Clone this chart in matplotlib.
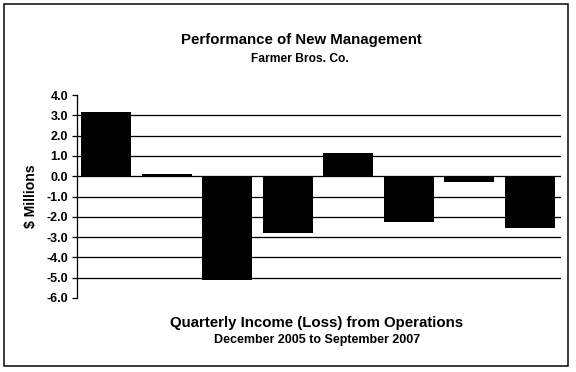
import matplotlib.pyplot as plt
from matplotlib.patches import Rectangle

quarters = ["Dec 2005", "Mar 2006", "Jun 2006", "Sep 2006",
            "Dec 2006", "Mar 2007", "Jun 2007", "Sep 2007"]
income = [3.15, 0.1, -5.1, -2.8, 1.15, -2.25, -0.28, -2.55]
yticks = [4.0, 3.0, 2.0, 1.0, 0.0, -1.0, -2.0, -3.0, -4.0, -5.0, -6.0]

plt.rcParams['font.family'] = ['Liberation Sans', 'DejaVu Sans']

fig = plt.figure(figsize=(8, 372 / 72), dpi=72)
ax = fig.add_axes([77 / 576, 1 - 298 / 372, (561 - 77) / 576, (298 - 95) / 372])

# gridlines behind bars
for v in yticks[1:-1]:
    ax.axhline(v, color="black", linewidth=1.3, zorder=1)

x = [i + 0.07 for i in range(len(income))]
ax.bar(x, income, width=0.83, align="edge", color="black", zorder=2)

ax.set_xlim(0, len(income))
ax.set_ylim(-6, 4)
ax.set_yticks(yticks)
ax.set_yticklabels([f"{v:.1f}" for v in yticks], fontsize=12.5, fontweight="bold")
ax.set_xticks([])
for s in ["top", "right", "bottom"]:
    ax.spines[s].set_visible(False)
ax.spines["left"].set_linewidth(1.3)
ax.tick_params(axis="y", length=5, width=1.3, pad=4)
ax.set_ylabel("$ Millions", fontsize=14, fontweight="bold", labelpad=8)

fig.text(301 / 576, 1 - 40 / 372, "Performance of New Management",
         ha="center", va="center", fontsize=15, fontweight="bold")
fig.text(300 / 576, 1 - 59 / 372, "Farmer Bros. Co.",
         ha="center", va="center", fontsize=12, fontweight="bold")
fig.text(317 / 576, 1 - 323 / 372, "Quarterly Income (Loss) from Operations",
         ha="center", va="center", fontsize=15, fontweight="bold")
fig.text(317 / 576, 1 - 340 / 372, "December 2005 to September 2007",
         ha="center", va="center", fontsize=12.5, fontweight="bold")

fig.patches.append(Rectangle((4 / 576, 1 - 366 / 372), 564 / 576, 362 / 372,
                             transform=fig.transFigure, fill=False,
                             edgecolor="black", linewidth=1.5))

fig.savefig("out.png", dpi=72)
